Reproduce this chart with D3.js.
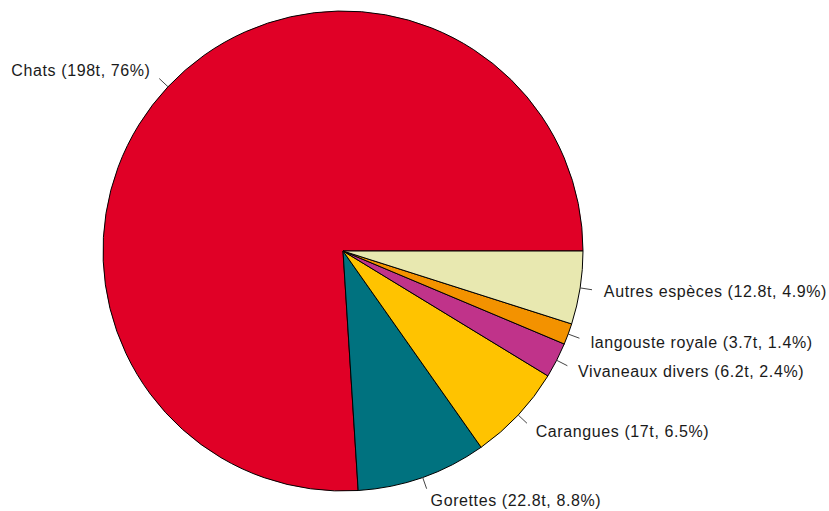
<!DOCTYPE html>
<html>
<head>
<meta charset="utf-8">
<script src="https://cdn.jsdelivr.net/npm/d3@7"></script>
<style>
  body { margin: 0; background: #fff; }
  svg { display: block; }
</style>
</head>
<body>
<div id="chart"></div>
<script>
// captures by species (tonnes), in R pie order (counter-clockwise from 3 o'clock)
let species = ["Chats", "Gorettes", "Carangues", "Vivaneaux divers", "langouste royale", "Autres espèces"];
let tonnes = [198, 22.8, 17, 6.2, 3.7, 12.8];
let tonneLabels = ["198t", "22.8t", "17t", "6.2t", "3.7t", "12.8t"];
let pctLabels = ["76%", "8.8%", "6.5%", "2.4%", "1.4%", "4.9%"];
let colors = ["#E00026", "#00727F", "#FFC300", "#C0338A", "#F39200", "#E8E8B0"];

let width = 829, height = 511;
let cx = 343, cy = 251, radius = 240;

let svg = d3.select("#chart")
  .append("svg")
  .attr("width", width)
  .attr("height", height);

let g = svg.append("g").attr("transform", `translate(${cx},${cy})`);

// R draws counter-clockwise from the positive x axis
let pie = d3.pie()
  .sort(null)
  .startAngle(Math.PI / 2)
  .endAngle(Math.PI / 2 - 2 * Math.PI);

let arcs = pie(tonnes);

let arc = d3.arc().innerRadius(0).outerRadius(radius);

g.selectAll("path.slice")
  .data(arcs)
  .enter()
  .append("path")
  .attr("class", "slice")
  .attr("d", arc)
  .attr("fill", (d, i) => colors[i])
  .attr("stroke", "#000")
  .attr("stroke-width", 1)
  .attr("stroke-linejoin", "round");

let mid = d => (d.startAngle + d.endAngle) / 2;

// tick lines from 1.0 r to 1.05 r
g.selectAll("line.tick")
  .data(arcs)
  .enter()
  .append("line")
  .attr("x1", d => Math.sin(mid(d)) * radius)
  .attr("y1", d => -Math.cos(mid(d)) * radius)
  .attr("x2", d => Math.sin(mid(d)) * radius * 1.05)
  .attr("y2", d => -Math.cos(mid(d)) * radius * 1.05)
  .attr("stroke", "#444")
  .attr("stroke-width", 1);

// labels at 1.1 r
g.selectAll("text.label")
  .data(arcs)
  .enter()
  .append("text")
  .attr("x", d => Math.sin(mid(d)) * radius * 1.1)
  .attr("y", d => -Math.cos(mid(d)) * radius * 1.1)
  .attr("dy", "0.35em")
  .attr("text-anchor", d => Math.sin(mid(d)) > 0 ? "start" : "end")
  .attr("font-family", "Liberation Sans, Arial, sans-serif")
  .attr("font-size", 16)
  .attr("letter-spacing", 0.6)
  .attr("fill", "#1a1a1a")
  .text((d, i) => `${species[i]} (${tonneLabels[i]}, ${pctLabels[i]})`);
</script>
</body>
</html>
